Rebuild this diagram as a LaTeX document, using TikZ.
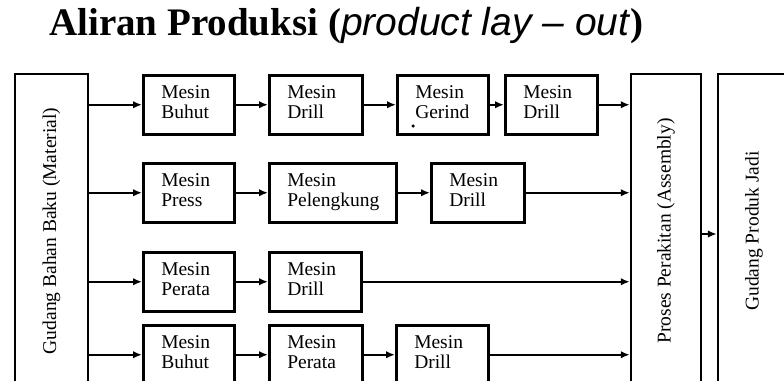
\documentclass[tikz,border=0pt]{standalone}
\usepackage{fontspec}
\setmainfont{Liberation Serif}
\newfontfamily\arialfont{Liberation Sans}
\usetikzlibrary{arrows.meta}
\begin{document}
\begin{tikzpicture}[x=1pt,y=-1pt,
  txt/.style={font=\fontsize{19.5}{19.5}\selectfont},
  mbox/.style={draw, line width=2.5pt, anchor=north west, minimum height=59pt,
    inner xsep=18pt, inner ysep=0pt, text width=#1, align=left, txt},
  tallbox/.style={draw, line width=2.5pt, minimum height=314pt, inner sep=0pt, txt},
  arr/.style={line width=1.8pt, -{Latex[length=9pt,width=7.5pt]}}
]
\clip (0,0) rectangle (784,380);
\fill[white] (0,0) rectangle (784,380);

\node[anchor=base west, inner sep=0pt] (title) at (49,35)
  {\fontsize{39}{40}\selectfont\textbf{Aliran Produksi (}{\arialfont\itshape product lay – out}\textbf{)}};

% side boxes
\node[tallbox, minimum width=73pt] (gbb) at (51.5,231) {\rotatebox{90}{Gudang Bahan Baku (Material)}};
\node[tallbox, minimum width=70pt] (asm) at (666,231) {\rotatebox{90}{Proses Perakitan (Assembly)}};
\node[tallbox, minimum width=72pt] (gpj) at (754,231) {\rotatebox{90}{Gudang Produk Jadi}};

% row 1
\node[mbox=55pt] (b11) at (142,74) {\strut Mesin\\\strut Buhut};
\node[mbox=57pt] (b12) at (268,74) {\strut Mesin\\\strut Drill};
\node[mbox=55pt] (b13) at (396,74) {\strut Mesin\\\strut Gerind};
\node[mbox=56pt] (b14) at (504,74) {\strut Mesin\\\strut Drill};
\node[circle, fill, inner sep=0pt, minimum size=3.5pt] (dot) at (413,126) {};

% row 2
\node[mbox=55pt] (b21) at (142,162) {\strut Mesin\\\strut Press};
\node[mbox=91pt] (b22) at (268,162) {\strut Mesin\\\strut Pelengkung};
\node[mbox=57pt] (b23) at (430,162) {\strut Mesin\\\strut Drill};

% row 3
\node[mbox=55pt] (b31) at (142,251) {\strut Mesin\\\strut Perata};
\node[mbox=56pt] (b32) at (268,251) {\strut Mesin\\\strut Drill};

% row 4
\node[mbox=55pt] (b41) at (142,324) {\strut Mesin\\\strut Buhut};
\node[mbox=57pt] (b42) at (268,324) {\strut Mesin\\\strut Perata};
\node[mbox=56pt] (b43) at (395,324) {\strut Mesin\\\strut Drill};

% connectors from material store
\draw[arr] (b11.west -| gbb.east) -- (b11.west);
\draw[arr] (b21.west -| gbb.east) -- (b21.west);
\draw[arr] (b31.west -| gbb.east) -- (b31.west);
\draw[arr] (b41.west -| gbb.east) -- (b41.west);

% within rows
\draw[arr] (b11) -- (b12);
\draw[arr] (b12) -- (b13);
\draw[arr] (b13) -- (b14);
\draw[arr] (b21) -- (b22);
\draw[arr] (b22) -- (b23);
\draw[arr] (b31) -- (b32);
\draw[arr] (b41) -- (b42);
\draw[arr] (b42) -- (b43);

% to assembly
\draw[arr] (b14.east) -- (b14.east -| asm.west);
\draw[arr] (b23.east) -- (b23.east -| asm.west);
\draw[arr] (b32.east) -- (b32.east -| asm.west);
\draw[arr] (b43.east) -- (b43.east -| asm.west);

% to finished goods
\draw[arr] ([yshift=-3pt]asm.east) -- ([yshift=-3pt]gpj.west);
\end{tikzpicture}
\end{document}
